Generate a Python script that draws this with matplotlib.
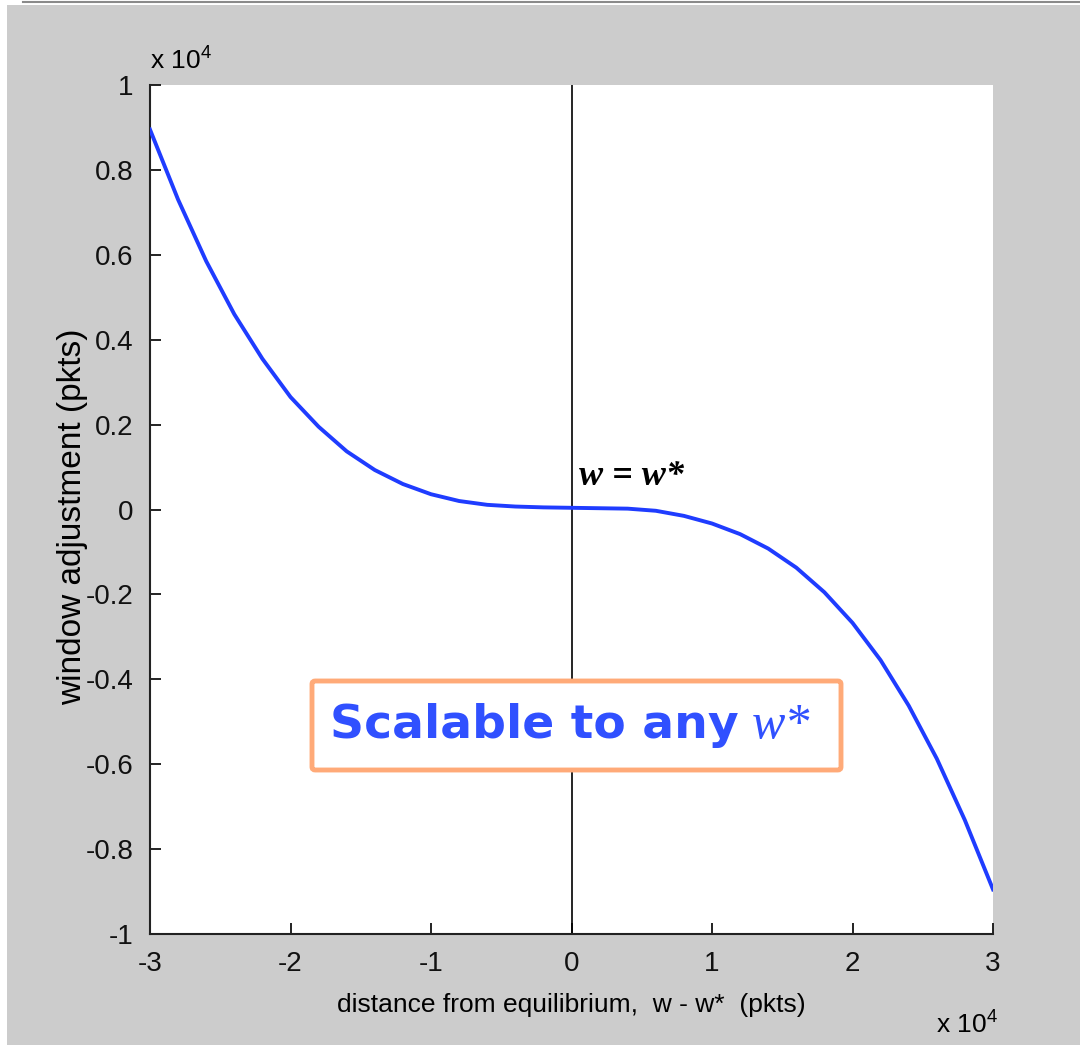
import matplotlib.pyplot as plt
from matplotlib.patches import FancyBboxPatch, Rectangle
from matplotlib.lines import Line2D

plt.rcParams['font.family'] = ['Liberation Sans', 'DejaVu Sans']
plt.rcParams['axes.unicode_minus'] = False

# distance from equilibrium (x 10^4 pkts) and window adjustment (x 10^4 pkts)
dist = [-3.0, -2.8, -2.6, -2.4, -2.2, -2.0, -1.8, -1.6, -1.4, -1.2, -1.0,
        -0.8, -0.6, -0.4, -0.2, 0.0, 0.2, 0.4, 0.6, 0.8, 1.0,
        1.2, 1.4, 1.6, 1.8, 2.0, 2.2, 2.4, 2.6, 2.8, 3.0]
adjust = [0.895, 0.73, 0.585, 0.46, 0.355, 0.265, 0.195, 0.137, 0.093, 0.060, 0.036,
          0.020, 0.011, 0.007, 0.005, 0.004, 0.003, 0.002, -0.003, -0.015, -0.033,
          -0.058, -0.092, -0.137, -0.195, -0.267, -0.355, -0.462, -0.587, -0.732, -0.895]

xticks = [-3, -2, -1, 0, 1, 2, 3]
yticks = [-1, -0.8, -0.6, -0.4, -0.2, 0, 0.2, 0.4, 0.6, 0.8, 1]
ytick_labels = ['-1', '-0.8', '-0.6', '-0.4', '-0.2', '0', '0.2', '0.4', '0.6', '0.8', '1']

W, H = 1080, 1045
fig = plt.figure(figsize=(W / 100, H / 100), dpi=100, facecolor='white')

# grey MATLAB figure background
fig.patches.append(Rectangle((7 / W, 0), 1 - 7 / W, 1 - 5 / H, transform=fig.transFigure,
                             facecolor='#cccccc', edgecolor='none', zorder=-5))
fig.lines.append(Line2D([23 / W, 1], [1 - 2 / H, 1 - 2 / H], transform=fig.transFigure,
                        color='#8a8a8a', lw=1.5, zorder=-4))

ax = fig.add_axes([150 / W, 1 - 934 / H, (993 - 150) / W, (934 - 85) / H])
ax.set_zorder(1)
ax.set_facecolor('white')
ax.plot(dist, adjust, color='#1f3cff', lw=2.8, zorder=3, solid_joinstyle='round')
ax.axvline(0, color='black', lw=1.2, zorder=2)

ax.set_xlim(-3, 3)
ax.set_ylim(-1, 1)
ax.set_xticks(xticks)
ax.set_xticklabels([str(t) for t in xticks])
ax.set_yticks(yticks)
ax.set_yticklabels(ytick_labels)
ax.tick_params(direction='in', length=8, width=1.3, labelsize=20, pad=12, colors='#111111')
ax.spines['top'].set_visible(False)
ax.spines['right'].set_visible(False)
for s in ['left', 'bottom']:
    ax.spines[s].set_linewidth(1.5)
    ax.spines[s].set_color('#222222')

ax.set_xlabel('distance from equilibrium,  w - w*  (pkts)', fontsize=19, labelpad=12)
ax.set_ylabel('window adjustment (pkts)', fontsize=24)
ax.yaxis.set_label_coords(-0.074, 0.492)

fig.text(150 / W, 1 - 69 / H, r'x 10$^{\mathregular{4}}$', fontsize=19, ha='left', va='baseline')
fig.text(936 / W, 1 - 1033 / H, r'x 10$^{\mathregular{4}}$', fontsize=19, ha='left', va='baseline')

ax.text(0.05, 0.04, 'w = w*', fontsize=26, family='Liberation Serif', style='italic',
        weight='bold', ha='left', va='bottom', zorder=4)

# orange callout box
box = FancyBboxPatch((312 / W, 1 - 770 / H), (841 - 312) / W, (770 - 681) / H,
                     boxstyle='round,pad=0,rounding_size=0.003', transform=fig.transFigure,
                     facecolor='white', edgecolor='#ffaa78', lw=3.5, zorder=5)
fig.patches.append(box)
fig.text(330 / W, 1 - 738 / H, 'Scalable to any', fontsize=34, family='DejaVu Sans',
         weight='bold', color='#3050ff', ha='left', va='baseline', zorder=6)
fig.text(752 / W, 1 - 738 / H, 'w*', fontsize=36, family='Liberation Serif',
         style='italic', color='#3050ff', ha='left', va='baseline', zorder=6)

fig.savefig('out.png', dpi=100, facecolor=fig.get_facecolor())
